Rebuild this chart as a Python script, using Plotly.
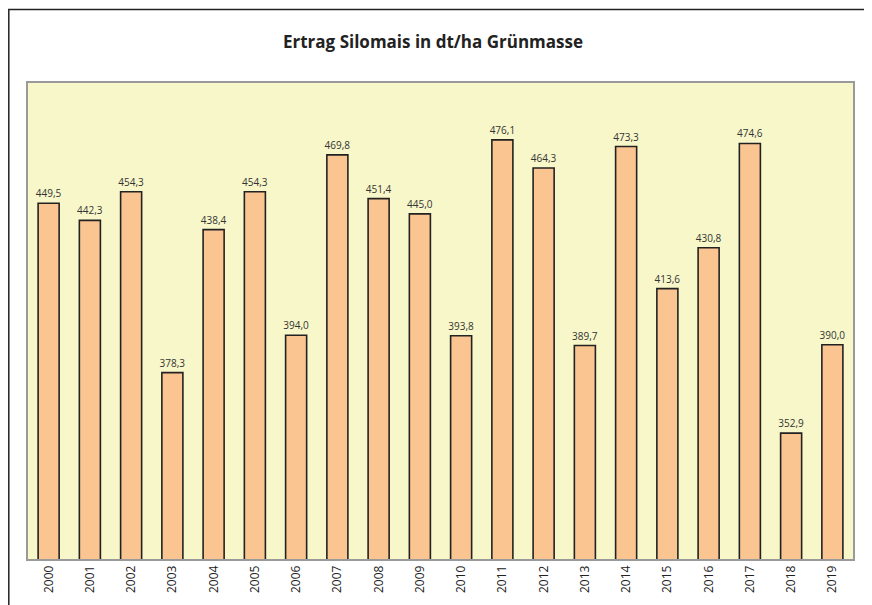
import plotly.graph_objects as go

years = ["2000", "2001", "2002", "2003", "2004", "2005", "2006", "2007", "2008", "2009",
         "2010", "2011", "2012", "2013", "2014", "2015", "2016", "2017", "2018", "2019"]
values = [449.5, 442.3, 454.3, 378.3, 438.4, 454.3, 394.0, 469.8, 451.4, 445.0,
          393.8, 476.1, 464.3, 389.7, 473.3, 413.6, 430.8, 474.6, 352.9, 390.0]
labels = [f"{v:.1f}".replace(".", ",") for v in values]
title_text = "Ertrag Silomais in dt/ha Grünmasse"

# page body has an 8px margin, so the figure is drawn 8px smaller / shifted
OFF = 8
W, H = 872 - OFF, 605 - OFF
ml, mr, mt, mb = 28 - OFF, 19, 83 - OFF, 42
pw, ph = W - ml - mr, H - mt - mb

FONT = "Open Sans, Noto Sans, sans-serif"

fig = go.Figure()
fig.add_trace(go.Bar(
    x=years, y=values,
    marker=dict(color="#FBC592", line=dict(color="#222222", width=1.6)),
    width=0.51,
    text=labels, textposition="outside", cliponaxis=False,
    textfont=dict(family=FONT, size=10, color="#333333"),
    hoverinfo="x+y",
))

def fx(p):  # figure pixel -> paper x
    return (p - ml) / pw
def fy(p):  # figure pixel -> paper y
    return (H - mb - p) / ph

fig.add_shape(type="rect", xref="paper", yref="paper",
              x0=fx(0.8), x1=fx(862.3), y0=fy(660), y1=fy(0.8),
              line=dict(color="#222222", width=1.5), fillcolor="rgba(0,0,0,0)", layer="below")

fig.update_layout(
    width=W, height=H,
    margin=dict(l=ml, r=mr, t=mt, b=mb),
    paper_bgcolor="white",
    plot_bgcolor="#F7F7C9",
    showlegend=False,
    uniformtext=dict(minsize=10, mode="show"),
    title=dict(text="<b>" + title_text + "</b>", x=(433 - OFF) / W, xanchor="center",
               y=1 - (42 - OFF) / H, yanchor="middle",
               font=dict(family=FONT, size=17, color="#222222")),
    xaxis=dict(type="category", tickangle=-90, showgrid=False, ticks="",
               tickfont=dict(family=FONT, size=12, color="#222222"),
               showline=True, linecolor="#9a9a9a", linewidth=1.5, mirror=True,
               range=[-0.5, 19.5]),
    yaxis=dict(range=[300, 500], showgrid=False, showticklabels=False, ticks="",
               zeroline=False, showline=True, linecolor="#9a9a9a", linewidth=1.5, mirror=True),
)

fig.write_html("out.html")
